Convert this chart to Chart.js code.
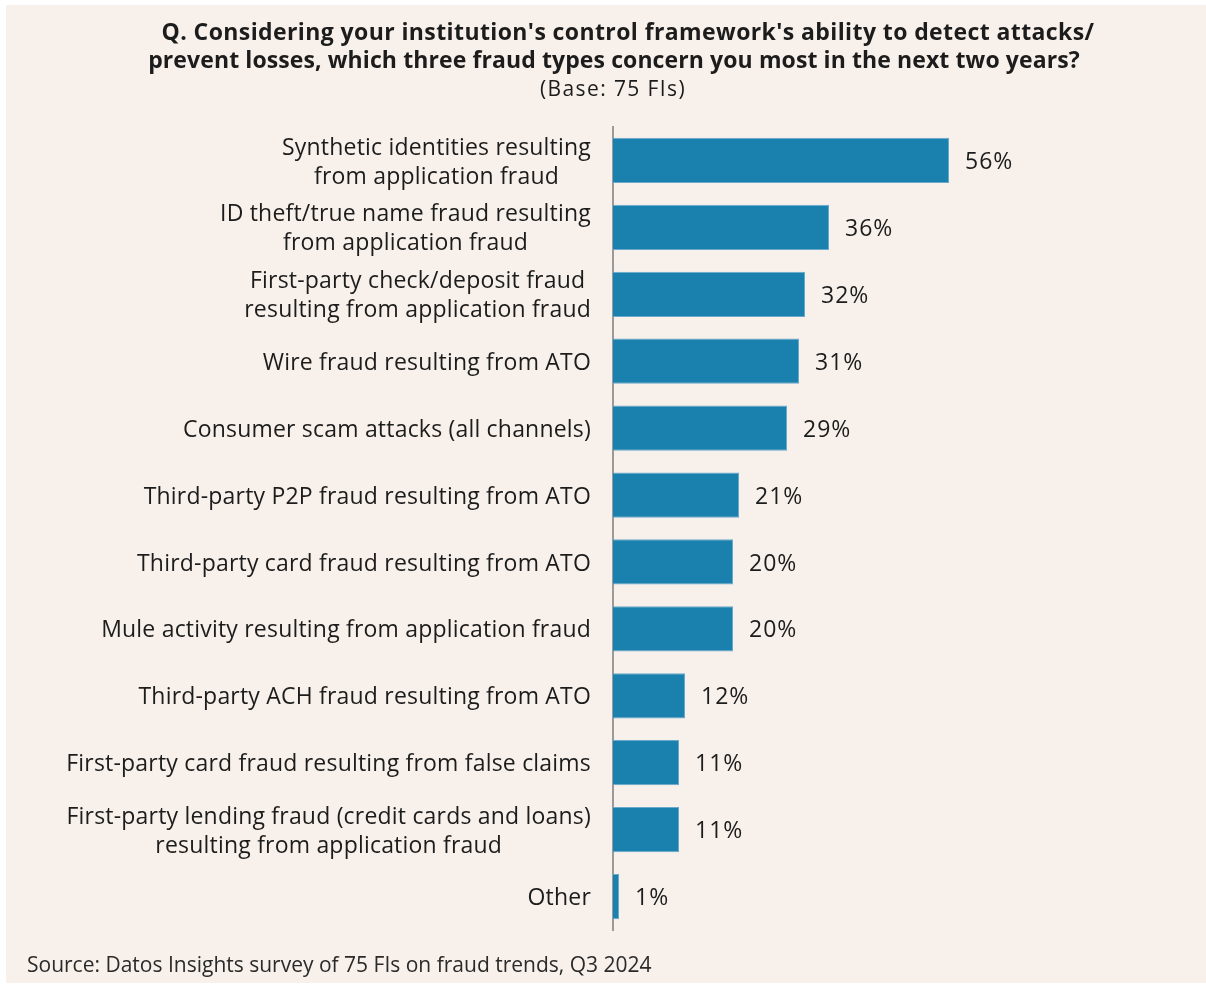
<!DOCTYPE html>
<html>
<head>
<meta charset="utf-8">
<script src="https://cdn.jsdelivr.net/npm/chart.js@4/dist/chart.umd.min.js"></script>
<style>
  html, body { margin: 0; padding: 0; background: #ffffff; }
  #wrap { width: 1206px; height: 985px; position: relative; }
</style>
</head>
<body>
<div id="wrap"><canvas id="chart" width="1206" height="985"></canvas></div>
<script>
const categories = [
  ['Synthetic identities resulting', 'from application fraud'],
  ['ID theft/true name fraud resulting', 'from application fraud'],
  ['First-party check/deposit fraud', 'resulting from application fraud'],
  'Wire fraud resulting from ATO',
  'Consumer scam attacks (all channels)',
  'Third-party P2P fraud resulting from ATO',
  'Third-party card fraud resulting from ATO',
  'Mule activity resulting from application fraud',
  'Third-party ACH fraud resulting from ATO',
  'First-party card fraud resulting from false claims',
  ['First-party lending fraud (credit cards and loans)', 'resulting from application fraud'],
  'Other'
];
const shares = [56, 36, 32, 31, 29, 21, 20, 20, 12, 11, 11, 1];

const titleLines = [
  "Q. Considering your institution's control framework's ability to detect attacks/",
  'prevent losses, which three fraud types concern you most in the next two years?'
];
const subtitle = '(Base: 75 FIs)';
const source = 'Source: Datos Insights survey of 75 FIs on fraud trends, Q3 2024';

const FONT = '"Open Sans", Lato, sans-serif';
const BG = '#f8f1eb';
const BAR = '#1a80ae';
const INK = '#1c1c1c';

// beige panel, heading and source line
const frame = {
  id: 'frame',
  beforeDraw(chart) {
    const { ctx, width, height } = chart;
    ctx.save();
    ctx.fillStyle = BG;
    ctx.fillRect(6, 5, width - 6, height - 7);
    ctx.fillStyle = INK;
    ctx.textBaseline = 'middle';
    ctx.textAlign = 'center';
    ctx.font = 'bold 23px ' + FONT;
    ctx.letterSpacing = '0.4px';
    ctx.fillText(titleLines[0], 628, 33);
    ctx.letterSpacing = '0.1px';
    ctx.fillText(titleLines[1], 614, 61);
    ctx.font = '21px ' + FONT;
    ctx.letterSpacing = '1.4px';
    ctx.fillText(subtitle, 613, 90);
    ctx.textAlign = 'left';
    ctx.letterSpacing = '0px';
    ctx.fillStyle = '#2a2a2a';
    ctx.font = '21px ' + FONT;
    ctx.fillText(source, 27, 966);
    ctx.restore();
  }
};

// category names: block right-aligned to the axis, lines centred within the block
const catLabels = {
  id: 'catLabels',
  afterDraw(chart) {
    const { ctx } = chart;
    const y = chart.scales.y;
    const right = chart.chartArea.left - 22;
    const lh = 29;
    ctx.save();
    ctx.font = '23px ' + FONT;
    ctx.letterSpacing = '0.2px';
    ctx.fillStyle = INK;
    ctx.textBaseline = 'middle';
    ctx.textAlign = 'center';
    categories.forEach((c, i) => {
      const lines = Array.isArray(c) ? c : [c];
      const w = Math.max(...lines.map(l => ctx.measureText(l).width));
      const cy = y.getPixelForTick(i) + 2 - (lines.length - 1) * lh / 2;
      lines.forEach((l, k) => ctx.fillText(l, right - w / 2, cy + k * lh));
    });
    ctx.restore();
  }
};

// value labels at the end of each bar
const valueLabels = {
  id: 'valueLabels',
  afterDatasetsDraw(chart) {
    const { ctx } = chart;
    const meta = chart.getDatasetMeta(0);
    ctx.save();
    ctx.font = '23px ' + FONT;
    ctx.letterSpacing = '1px';
    ctx.fillStyle = INK;
    ctx.textBaseline = 'middle';
    ctx.textAlign = 'left';
    meta.data.forEach((bar, i) => {
      ctx.fillText(shares[i] + '%', bar.x + 16, bar.y + 2);
    });
    ctx.restore();
  }
};

new Chart(document.getElementById('chart'), {
  type: 'bar',
  data: {
    labels: categories,
    datasets: [{
      data: shares,
      backgroundColor: BAR,
      borderColor: '#6aa8cc',
      borderWidth: 1,
      borderSkipped: 'left',
      barPercentage: 0.9,
      categoryPercentage: 0.75
    }]
  },
  options: {
    indexAxis: 'y',
    responsive: false,
    animation: false,
    layout: { padding: { top: 127, bottom: 55, left: 0, right: 56 } },
    plugins: {
      legend: { display: false },
      title: { display: false },
      tooltip: { enabled: false }
    },
    scales: {
      x: { display: false, min: 0, max: 89.5 },
      y: {
        afterFit(scale) { scale.width = 613; },
        ticks: { display: false },
        grid: { display: false, drawTicks: false },
        border: { display: true, color: '#9a9a9a', width: 2 }
      }
    }
  },
  plugins: [frame, catLabels, valueLabels]
});
</script>
</body>
</html>
